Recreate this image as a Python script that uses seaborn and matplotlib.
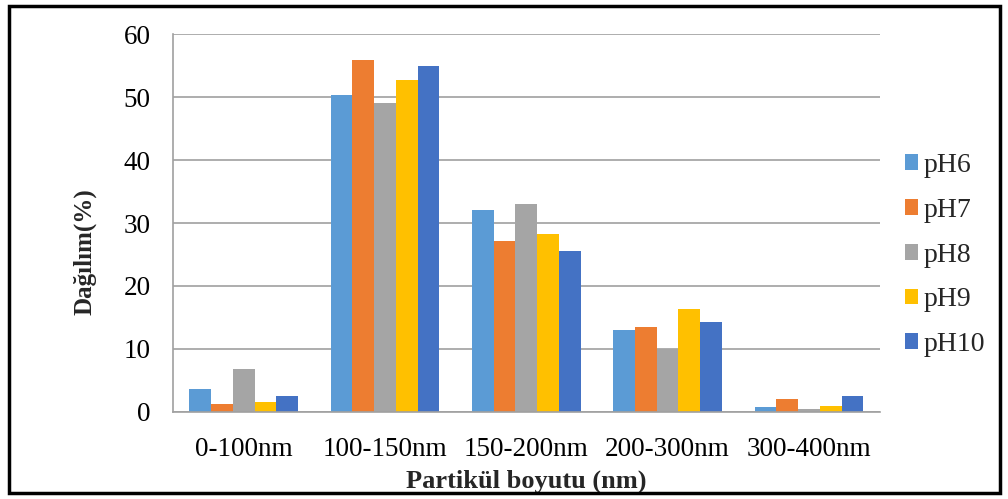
import numpy as np
import pandas as pd
import matplotlib
matplotlib.use("Agg")
import matplotlib.pyplot as plt
import seaborn as sns
from matplotlib.patches import Rectangle

# Particle size distribution by pH
sizes = ["0-100nm", "100-150nm", "150-200nm", "200-300nm", "300-400nm"]
ph_labels = ["pH6", "pH7", "pH8", "pH9", "pH10"]
ph6 = [3.6, 50.4, 32.1, 13.0, 0.7]
ph7 = [1.2, 56.0, 27.2, 13.4, 2.0]
ph8 = [6.8, 49.1, 33.0, 10.0, 0.5]
ph9 = [1.5, 52.7, 28.2, 16.4, 0.9]
ph10 = [2.5, 55.0, 25.6, 14.2, 2.5]
colors = ["#5B9BD5", "#ED7D31", "#A5A5A5", "#FFC000", "#4472C4"]

series = [ph6, ph7, ph8, ph9, ph10]
df = pd.DataFrame({
    "size": np.tile(sizes, len(ph_labels)),
    "ph": np.repeat(ph_labels, len(sizes)),
    "value": np.concatenate(series),
})

sns.set_theme(style="white")
plt.rcParams["font.family"] = ["Liberation Serif", "DejaVu Serif"]

fig = plt.figure(figsize=(10.08, 4.99), dpi=100)
ax = fig.add_axes([0.1716, 0.175, 0.701, 0.756])

sns.barplot(data=df, x="size", y="value", hue="ph", order=sizes,
            hue_order=ph_labels, palette=colors, width=0.77,
            saturation=1, errorbar=None, ax=ax, linewidth=0)

ax.set_ylim(0, 60)
ax.set_yticks(range(0, 61, 10))
ax.set_xlim(-0.5, len(sizes) - 0.5)
ax.yaxis.grid(True, color="#A0A0A0", linewidth=1.2)
ax.set_axisbelow(True)
for side in ["top", "right"]:
    ax.spines[side].set_visible(False)
for side in ["left", "bottom"]:
    ax.spines[side].set_color("#A0A0A0")
    ax.spines[side].set_linewidth(1.2)
ax.tick_params(axis="both", length=0, labelsize=19.5, colors="black")
ax.tick_params(axis="y", pad=16)
ax.tick_params(axis="x", pad=18)

ax.set_xlabel("Partikül boyutu (nm)", fontsize=19, fontweight="bold", labelpad=6)
ax.set_ylabel("Dağılım(%)", fontsize=18, fontweight="bold")
ax.yaxis.set_label_coords(-0.108, 0.424)

leg = ax.legend(loc="center left", bbox_to_anchor=(1.0, 0.415), frameon=False,
                fontsize=20, handlelength=0.5, handleheight=0.5,
                handletextpad=0.2, labelspacing=0.71)

# Outer frame around the whole figure
fig.patches.append(Rectangle((0.009, 0.012), 0.983, 0.976, transform=fig.transFigure,
                             fill=False, edgecolor="black", linewidth=2.5))

fig.savefig("out.png", dpi=100)
